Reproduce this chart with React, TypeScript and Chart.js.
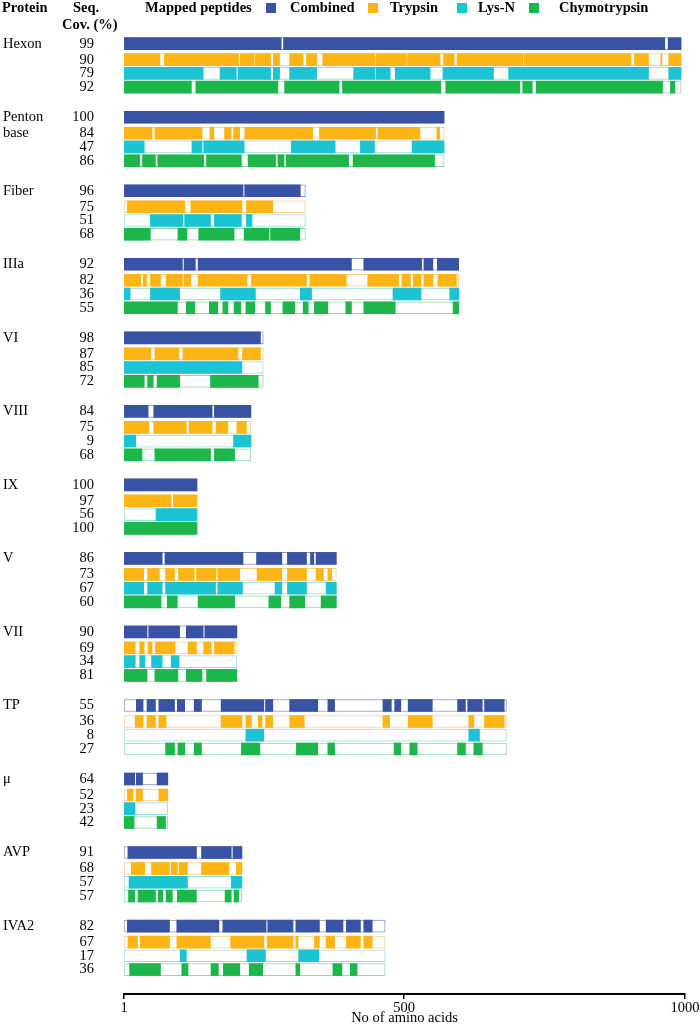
import React, { useEffect, useRef } from 'react';
import { Chart, registerables } from 'chart.js';

Chart.register(...registerables);

const PROTEINS = ['Hexon', 'Penton base', 'Fiber', 'IIIa', 'VI', 'VIII', 'IX', 'V', 'VII', 'TP', 'μ', 'AVP', 'IVA2'];
const LENGTHS = [993, 571, 324, 597, 249, 227, 131, 379, 202, 682, 79, 211, 466];
const ENZYMES = ['Combined', 'Trypsin', 'Lys-N', 'Chymotrypsin'];

const COV_COMBINED = [99, 100, 96, 92, 98, 84, 100, 86, 90, 55, 64, 91, 82];
const COV_TRYPSIN = [90, 84, 75, 82, 87, 75, 97, 73, 69, 36, 52, 68, 67];
const COV_LYSN = [79, 47, 51, 36, 85, 9, 56, 67, 34, 8, 23, 57, 17];
const COV_CHYMO = [92, 86, 68, 55, 72, 68, 100, 60, 81, 27, 42, 57, 36];

const SEG_COMBINED = [
  [[1, 281], [285, 964], [970, 993]],
  [[1, 571]],
  [[1, 213], [216, 315]],
  [[1, 105], [108, 128], [133, 406], [428, 531], [535, 551], [559, 597]],
  [[1, 244]],
  [[1, 44], [54, 158], [162, 227]],
  [[1, 131]],
  [[1, 69], [74, 213], [237, 282], [292, 326], [333, 339], [343, 379]],
  [[1, 42], [45, 100], [112, 142], [145, 202]],
  [[23, 35], [42, 57], [63, 91], [96, 109], [126, 139], [174, 250], [253, 266], [296, 346], [364, 376], [462, 477], [483, 494], [507, 550], [595, 609], [613, 639], [643, 678]],
  [[1, 20], [23, 34], [60, 79]],
  [[8, 130], [139, 192], [195, 211]],
  [[7, 82], [95, 170], [177, 254], [257, 302], [307, 349], [361, 391], [397, 422], [428, 443]],
];

const SEG_TRYPSIN = [
  [[1, 65], [73, 205], [208, 233], [235, 262], [267, 278], [296, 320], [326, 344], [355, 448], [450, 504], [506, 564], [570, 589], [594, 712], [714, 904], [910, 935], [957, 959], [971, 993]],
  [[1, 51], [56, 140], [154, 161], [180, 192], [196, 207], [216, 337], [349, 449], [453, 528], [558, 563]],
  [[7, 109], [120, 211], [219, 266]],
  [[1, 31], [35, 41], [48, 66], [76, 105], [108, 120], [133, 220], [228, 326], [332, 397], [435, 490], [496, 511], [516, 530], [535, 551], [560, 593]],
  [[1, 49], [56, 99], [106, 204], [212, 244]],
  [[1, 45], [54, 112], [117, 158], [165, 186], [202, 219]],
  [[1, 85], [89, 131]],
  [[1, 36], [43, 64], [75, 91], [98, 126], [130, 165], [168, 207], [238, 282], [292, 326], [343, 356], [364, 371]],
  [[1, 21], [29, 37], [44, 51], [57, 92], [115, 130], [143, 156], [162, 197]],
  [[21, 35], [42, 57], [63, 76], [174, 211], [218, 228], [240, 247], [253, 266], [296, 322], [462, 474], [507, 550], [615, 624], [643, 678]],
  [[7, 17], [23, 34], [63, 79]],
  [[14, 38], [50, 82], [85, 96], [99, 114], [139, 188], [201, 211]],
  [[8, 25], [30, 82], [95, 155], [191, 250], [256, 302], [307, 311], [340, 349], [361, 376], [397, 422], [428, 443]],
];

const SEG_LYSN = [
  [[1, 142], [172, 201], [204, 262], [267, 278], [296, 344], [410, 448], [450, 475], [484, 546], [569, 659], [686, 935], [971, 993]],
  [[1, 37], [122, 140], [143, 215], [299, 377], [422, 447], [514, 571]],
  [[48, 106], [109, 155], [162, 210], [219, 229]],
  [[1, 12], [48, 100], [173, 235], [315, 335], [480, 530], [581, 597]],
  [[1, 211]],
  [[1, 22], [196, 227]],
  [[58, 131]],
  [[1, 36], [43, 69], [75, 164], [168, 212], [270, 282], [292, 326], [361, 379]],
  [[1, 21], [29, 38], [50, 69], [85, 99]],
  [[218, 250], [615, 634]],
  [[1, 20]],
  [[10, 114], [192, 211]],
  [[101, 112], [220, 253], [312, 348]],
];

const SEG_CHYMO = [
  [[1, 121], [129, 275], [287, 384], [390, 565], [574, 706], [711, 728], [735, 960], [974, 982]],
  [[1, 29], [34, 57], [61, 143], [148, 210], [222, 271], [275, 286], [290, 401], [409, 554]],
  [[1, 48], [97, 113], [134, 197], [215, 259], [262, 314]],
  [[1, 96], [112, 127], [153, 168], [177, 186], [197, 209], [218, 234], [253, 262], [284, 305], [320, 329], [340, 364], [396, 406], [428, 484], [587, 597]],
  [[1, 37], [43, 53], [60, 100], [155, 240]],
  [[1, 33], [56, 155], [162, 198]],
  [[1, 131]],
  [[1, 67], [78, 96], [133, 198], [259, 280], [296, 323], [352, 379]],
  [[1, 42], [56, 97], [112, 140], [148, 202]],
  [[75, 91], [97, 109], [126, 139], [210, 243], [308, 346], [364, 376], [482, 494], [510, 523], [595, 609], [624, 639]],
  [[1, 19], [60, 75]],
  [[9, 20], [26, 57], [62, 70], [76, 87], [96, 130], [181, 192], [197, 205]],
  [[11, 66], [104, 115], [156, 169], [178, 207], [224, 248], [307, 314], [373, 389], [404, 416]],
];

const X_TICKS = [1, 500, 1000];

const FILL_COLORS = ['#3953A4', '#FDB515', '#1CC4D3', '#1DB64B'];
const EDGE_COLORS = ['#8896CB', '#FBD185', '#95DDE4', '#98D8A6'];

const SEGMENTS = [SEG_COMBINED, SEG_TRYPSIN, SEG_LYSN, SEG_CHYMO];
const COVERAGES = [COV_COMBINED, COV_TRYPSIN, COV_LYSN, COV_CHYMO];

// layout (pixels)
const W = 700;
const H = 1026;
const AXIS_Y = 994;
const GROUP_TOP = 43.7;
const GROUP_STEP = 73.53;
const ROW_OFF = [0, 16, 29.7, 43.5];
const FS = 14.5;
const SERIF = '"Liberation Serif", "Times New Roman", serif';

const rowY = (g: number, r: number) => GROUP_TOP + g * GROUP_STEP + ROW_OFF[r];

const textPlugin = {
  id: 'texts',
  afterDraw(chart: any) {
    const ctx = chart.ctx;
    const ys = chart.scales.y;
    ctx.save();
    ctx.fillStyle = '#000';
    ctx.textBaseline = 'middle';
    ctx.textAlign = 'left';
    ctx.font = `bold ${FS}px ${SERIF}`;
    ctx.fillText('Protein', 2, 8);
    ctx.fillText('Seq.', 73, 8);
    ctx.fillText('Cov. (%)', 62, 25);
    ctx.fillText('Mapped peptides', 145, 8);
    const sqX = [266, 368, 457, 529];
    const txX = [290, 390, 478, 559];
    ENZYMES.forEach((name, i) => {
      ctx.fillStyle = FILL_COLORS[i];
      ctx.fillRect(sqX[i], 3, 10, 10);
      ctx.fillStyle = '#000';
      ctx.fillText(name, txX[i], 8);
    });
    ctx.font = `${FS}px ${SERIF}`;
    PROTEINS.forEach((p, g) => {
      const words = p.split(' ');
      words.forEach((w, k) => {
        ctx.textAlign = 'left';
        ctx.fillText(w, 3, ys.getPixelForValue(rowY(g, k)));
      });
      COVERAGES.forEach((cov, r) => {
        ctx.textAlign = 'right';
        ctx.fillText(String(cov[g]), 94, ys.getPixelForValue(rowY(g, r)));
      });
    });
    ctx.restore();
  },
};

export default function App() {
  const ref = useRef<HTMLCanvasElement>(null);
  useEffect(() => {
    if (!ref.current) return;
    const outlineData: any[] = [];
    const outlineBorders: string[] = [];
    PROTEINS.forEach((_, g) => {
      for (let r = 0; r < 4; r++) {
        outlineData.push({ y: rowY(g, r), x: [1, LENGTHS[g]] });
        outlineBorders.push(EDGE_COLORS[r]);
      }
    });
    const segDatasets = ENZYMES.map((name, r) => {
      const data: any[] = [];
      SEGMENTS[r].forEach((segs, g) => {
        segs.forEach((s) => data.push({ y: rowY(g, r), x: [s[0], s[1]] }));
      });
      return {
        label: name,
        data,
        backgroundColor: FILL_COLORS[r],
        borderWidth: 0,
        barThickness: 12,
        grouped: false,
        order: 1,
      };
    });
    const chart = new Chart(ref.current, {
      type: 'bar',
      data: {
        datasets: [
          {
            label: 'outline',
            data: outlineData,
            backgroundColor: '#ffffff',
            borderColor: outlineBorders,
            borderWidth: 1,
            borderSkipped: false,
            barThickness: 12,
            grouped: false,
            order: 2,
          } as any,
          ...(segDatasets as any[]),
        ],
      },
      options: {
        indexAxis: 'y',
        animation: false,
        responsive: false,
        devicePixelRatio: 1,
        layout: { padding: { left: 124, right: 15, top: 0, bottom: 0 } },
        plugins: { legend: { display: false }, tooltip: { enabled: false } },
        scales: {
          y: {
            type: 'linear',
            display: false,
            offset: false,
            min: 0,
            max: AXIS_Y,
            reverse: true,
          },
          x: {
            type: 'linear',
            position: 'bottom',
            offset: false,
            min: 1,
            max: 1000,
            afterBuildTicks: (axis: any) => {
              axis.ticks = X_TICKS.map((v) => ({ value: v }));
            },
            afterFit: (axis: any) => {
              axis.height = H - AXIS_Y;
            },
            ticks: {
              color: '#000',
              font: { family: SERIF, size: FS },
              padding: 0,
              maxRotation: 0,
              autoSkip: false,
              callback: (v: any) => String(v),
            },
            grid: {
              display: true,
              drawOnChartArea: false,
              drawTicks: true,
              tickLength: 5,
              color: '#000',
              lineWidth: 1.5,
            },
            border: { display: true, color: '#000', width: 2 },
            title: {
              display: true,
              text: 'No of amino acids',
              color: '#000',
              font: { family: SERIF, size: FS, lineHeight: 1.1 },
              padding: { top: 0, bottom: 0 },
            },
          },
        },
      },
      plugins: [textPlugin],
    } as any);
    return () => chart.destroy();
  }, []);
  return (
    <div style={{ position: 'absolute', left: 0, top: 0, width: W, height: H }}>
      <canvas ref={ref} width={W} height={H} style={{ display: 'block' }} />
    </div>
  );
}
